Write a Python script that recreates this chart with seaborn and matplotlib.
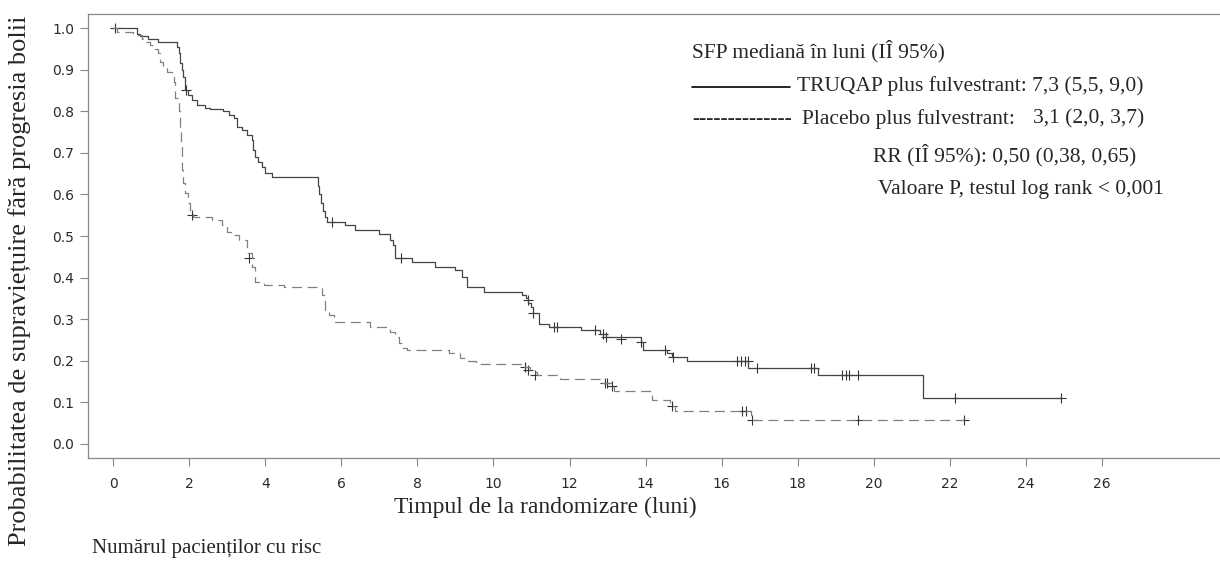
import matplotlib
matplotlib.use("Agg")
import matplotlib.pyplot as plt
import seaborn as sns
import pandas as pd
from matplotlib.lines import Line2D

# Kaplan-Meier steps (time in months, survival from that time on)
TRUQAP_T = [0, 0.62, 0.71, 0.93, 1.19, 1.28, 1.68, 1.72, 1.76, 1.80, 1.85, 1.89, 1.98, 2.07,
            2.20, 2.42, 2.55, 2.90, 3.04, 3.17, 3.25, 3.39, 3.52, 3.65, 3.69, 3.74, 3.82,
            3.91, 4.00, 4.18, 5.38, 5.42, 5.47, 5.52, 5.57, 5.62, 6.10, 6.37, 6.98, 7.29,
            7.35, 7.42, 7.86, 8.47, 9.00, 9.17, 9.30, 9.75, 10.75, 10.85, 10.92, 10.98,
            11.05, 11.20, 11.45, 12.30, 12.80, 12.95, 13.87, 13.92, 14.55, 14.70, 15.10,
            16.70, 18.52, 21.28, 24.92]
TRUQAP_S = [1.0, 0.987, 0.981, 0.974, 0.967, 0.967, 0.955, 0.939, 0.915, 0.899, 0.883, 0.851,
            0.839, 0.827, 0.815, 0.809, 0.805, 0.800, 0.791, 0.783, 0.763, 0.755, 0.743,
            0.731, 0.707, 0.690, 0.679, 0.667, 0.651, 0.643, 0.620, 0.600, 0.580, 0.560,
            0.545, 0.534, 0.526, 0.514, 0.506, 0.490, 0.478, 0.446, 0.438, 0.426, 0.418,
            0.402, 0.378, 0.366, 0.358, 0.350, 0.340, 0.330, 0.314, 0.288, 0.282, 0.274,
            0.265, 0.256, 0.245, 0.226, 0.219, 0.209, 0.200, 0.182, 0.166, 0.110, 0.110]

PLACEBO_T = [0, 0.10, 0.53, 0.75, 0.84, 0.97, 1.10, 1.19, 1.24, 1.32, 1.41, 1.54, 1.59, 1.63,
             1.72, 1.75, 1.78, 1.80, 1.85, 1.89, 1.96, 2.01, 2.11, 2.60, 2.86, 2.99, 3.17,
             3.30, 3.52, 3.65, 3.74, 3.96, 4.48, 5.49, 5.58, 5.67, 5.80, 6.76, 7.29, 7.42,
             7.51, 7.60, 7.73, 8.82, 9.13, 9.30, 9.53, 10.80, 10.97, 11.15, 11.76, 12.86,
             13.17, 14.13, 14.18, 14.65, 14.78, 16.76, 22.38]
PLACEBO_S = [1.0, 0.991, 0.983, 0.975, 0.967, 0.959, 0.951, 0.939, 0.919, 0.907, 0.895, 0.883,
             0.871, 0.831, 0.800, 0.760, 0.720, 0.659, 0.627, 0.603, 0.579, 0.558, 0.545,
             0.538, 0.526, 0.510, 0.502, 0.490, 0.458, 0.426, 0.390, 0.382, 0.378, 0.358,
             0.318, 0.310, 0.294, 0.282, 0.270, 0.258, 0.242, 0.230, 0.226, 0.218, 0.206,
             0.200, 0.191, 0.184, 0.174, 0.166, 0.156, 0.146, 0.128, 0.118, 0.106, 0.092,
             0.078, 0.057, 0.057]

# censoring marks
TRUQAP_CENS_T = [0.05, 1.92, 5.75, 7.57, 10.90, 11.05, 11.60, 11.66, 12.68, 12.88, 12.95,
                 13.34, 13.87, 14.50, 14.72, 16.40, 16.50, 16.62, 16.68, 16.94, 18.34, 18.42,
                 19.17, 19.26, 19.34, 19.57, 22.13, 24.92]
TRUQAP_CENS_S = [1.0, 0.851, 0.534, 0.446, 0.346, 0.314, 0.282, 0.282, 0.274, 0.265, 0.258,
                 0.252, 0.245, 0.226, 0.209, 0.200, 0.200, 0.200, 0.200, 0.182, 0.182, 0.182,
                 0.166, 0.166, 0.166, 0.166, 0.110, 0.110]
PLACEBO_CENS_T = [2.07, 3.56, 10.84, 10.92, 11.10, 12.92, 12.99, 13.12, 14.70, 16.54, 16.63,
                  16.80, 19.57, 22.38]
PLACEBO_CENS_S = [0.550, 0.446, 0.184, 0.178, 0.166, 0.146, 0.146, 0.140, 0.090, 0.078, 0.078,
                  0.057, 0.057, 0.057]

X_TICKS = list(range(0, 27, 2))
Y_TICKS = [i / 10 for i in range(11)]

W, H = 1220, 561


def fx(px):
    return px / W


def fy(py):
    return 1 - py / H


sns.set_style("ticks")
plt.rcParams["font.family"] = ["DejaVu Sans"]
SERIF = ["Liberation Serif", "DejaVu Serif"]
LEG = 15.5

curves = pd.concat([
    pd.DataFrame({"t": TRUQAP_T, "s": TRUQAP_S, "arm": "TRUQAP"}),
    pd.DataFrame({"t": PLACEBO_T, "s": PLACEBO_S, "arm": "Placebo"}),
])
cens = pd.concat([
    pd.DataFrame({"t": TRUQAP_CENS_T, "s": TRUQAP_CENS_S, "arm": "TRUQAP"}),
    pd.DataFrame({"t": PLACEBO_CENS_T, "s": PLACEBO_CENS_S, "arm": "Placebo"}),
])

fig = plt.figure(figsize=(W / 100, H / 100), dpi=100)
ax = fig.add_axes([fx(88), fy(458), fx(1132), 444 / H])

sns.lineplot(data=curves, x="t", y="s", hue="arm", style="arm",
             palette={"TRUQAP": "#444444", "Placebo": "#808080"},
             dashes={"TRUQAP": "", "Placebo": (8, 4.5)},
             estimator=None, sort=False, drawstyle="steps-post",
             linewidth=0.9, legend=False, ax=ax)
sns.scatterplot(data=cens, x="t", y="s", color="#333333", marker="+", s=45,
                linewidth=0.8, legend=False, ax=ax)

ax.set_xlim(-0.66, 29.1)
ax.set_ylim(-0.034, 1.034)
ax.set_xticks(X_TICKS)
ax.set_yticks(Y_TICKS)
ax.set_yticklabels([f"{v:.1f}" for v in Y_TICKS])
ax.set_xlabel("")
ax.set_ylabel("")
ax.tick_params(colors="#888888", labelcolor="#2a2a2a", labelsize=10, length=6, width=0.8)
ax.tick_params(axis="x", pad=8)
ax.tick_params(axis="y", pad=4)
for side in ["left", "top", "bottom"]:
    ax.spines[side].set_color("#888888")
    ax.spines[side].set_linewidth(0.9)
ax.spines["right"].set_visible(False)

# axis titles
fig.text(fx(545), fy(507), "Timpul de la randomizare (luni)", family=SERIF,
         fontsize=17, ha="center", va="center")
fig.text(fx(20), fy(281), "Probabilitatea de supraviețuire fără progresia bolii",
         family=SERIF, fontsize=19, rotation=90, ha="center", va="center")
fig.text(fx(92), fy(548), "Numărul pacienților cu risc", family=SERIF,
         fontsize=15, ha="left", va="center")

# legend block
fig.text(fx(692), fy(51), "SFP mediană în luni (IÎ 95%)", family=SERIF,
         fontsize=LEG, ha="left", va="center")
fig.add_artist(Line2D([fx(692), fx(790)], [fy(87), fy(87)], color="black", lw=1.2))
fig.text(fx(797), fy(86), "TRUQAP plus fulvestrant: 7,3 (5,5, 9,0)", family=SERIF,
         fontsize=LEG, ha="left", va="center")
fig.text(fx(692), fy(119), "--------------", family=SERIF,
         fontsize=LEG, ha="left", va="center")
fig.text(fx(802), fy(119), "Placebo plus fulvestrant:", family=SERIF,
         fontsize=LEG, ha="left", va="center")
fig.text(fx(1033), fy(119), "3,1 (2,0, 3,7)", family=SERIF,
         fontsize=LEG, ha="left", va="center")
fig.text(fx(873), fy(155), "RR (IÎ 95%): 0,50 (0,38, 0,65)", family=SERIF,
         fontsize=LEG, ha="left", va="center")
fig.text(fx(878), fy(190), "Valoare P, testul log rank < 0,001", family=SERIF,
         fontsize=LEG, ha="left", va="center")

fig.savefig("out.png", dpi=100)
